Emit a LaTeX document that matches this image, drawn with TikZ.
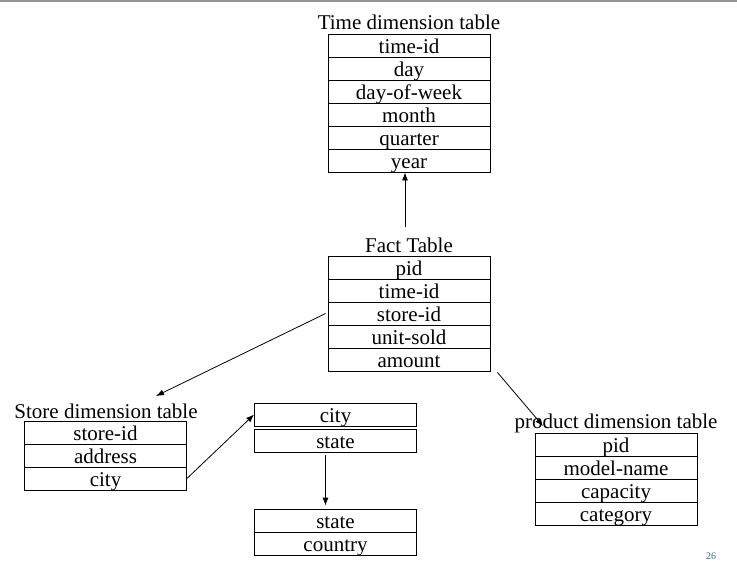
\documentclass[tikz,border=0pt]{standalone}
\usepackage{fontspec}
\setmainfont{Liberation Serif}
\usepackage{xcolor}
\usetikzlibrary{arrows.meta}
\definecolor{pagenum}{RGB}{50,110,140}

\begin{document}
\begin{tikzpicture}[x=1pt, y=-1pt,
    row/.style={draw, line width=.8pt, minimum width=162pt, minimum height=23pt, inner sep=0pt, text height=17pt, text depth=2pt, font=\fontsize{21}{23}\selectfont},
    ttl/.style={inner sep=0pt, font=\fontsize{21}{23}\selectfont},
    link/.style={line width=.8pt, -{Latex[length=8pt, width=6pt]}}]
      \useasboundingbox (0,0) rectangle (737,562);
      \draw[gray!85, line width=2pt] (0,0.5) -- (737,0.5);
      % time dimension
      \node[ttl] (ttitle) at (409,22) {Time dimension table};
      \node[row] (tid) at (409,45.5) {time-id};
      \node[row] (tday) at (409,68.5) {day};
      \node[row] (tdow) at (409,91.5) {day-of-week};
      \node[row] (tmonth) at (409,114.5) {month};
      \node[row] (tquarter) at (409,137.5) {quarter};
      \node[row] (tyear) at (409,160.5) {year};
      % fact table
      \node[ttl] (ftitle) at (409,245) {Fact Table};
      \node[row] (fpid) at (409,267.5) {pid};
      \node[row] (ftime) at (409,290.5) {time-id};
      \node[row] (fstore) at (409,313.5) {store-id};
      \node[row] (funit) at (409,336.5) {unit-sold};
      \node[row] (famount) at (409,359.5) {amount};
      % store dimension
      \node[ttl] (stitle) at (106,411) {Store dimension table};
      \node[row] (sid) at (105.5,432.5) {store-id};
      \node[row] (saddr) at (105.5,455.5) {address};
      \node[row] (scity) at (105.5,478.5) {city};
      % city and state
      \node[row] (ccity) at (335.5,414.5) {city};
      \node[row] (cstate) at (335.5,440.5) {state};
      \node[row] (sstate) at (335.5,520.5) {state};
      \node[row] (scountry) at (335.5,543.5) {country};
      % product dimension
      \node[ttl] (ptitle) at (616,423) {product dimension table};
      \node[row] (ppid) at (616,444.5) {pid};
      \node[row] (pmodel) at (616,467.5) {model-name};
      \node[row] (pcap) at (616,490.5) {capacity};
      \node[row] (pcat) at (616,513.5) {category};
      % links
      \coordinate (sarrow) at (156,396);
      \coordinate (parrow) at (543,426);
      \draw[link] ([xshift=-4pt, yshift=10pt]ftitle.north) -- ([xshift=-4pt]tyear.south);
      \draw[link] ([xshift=-2pt]fstore.west) -- (sarrow);
      \draw[link] (scity.east) -- (ccity.west);
      \draw[link] ([xshift=-10pt, yshift=-3pt]cstate.south) -- ([xshift=-10pt, yshift=3pt]sstate.north);
      \draw[link] ([xshift=7pt, yshift=-1pt]famount.south east) -- (parrow);
      \node[text=pagenum, font=\fontsize{10}{12}\selectfont] (pnum) at (711,556) {26};
\end{tikzpicture}
\end{document}
